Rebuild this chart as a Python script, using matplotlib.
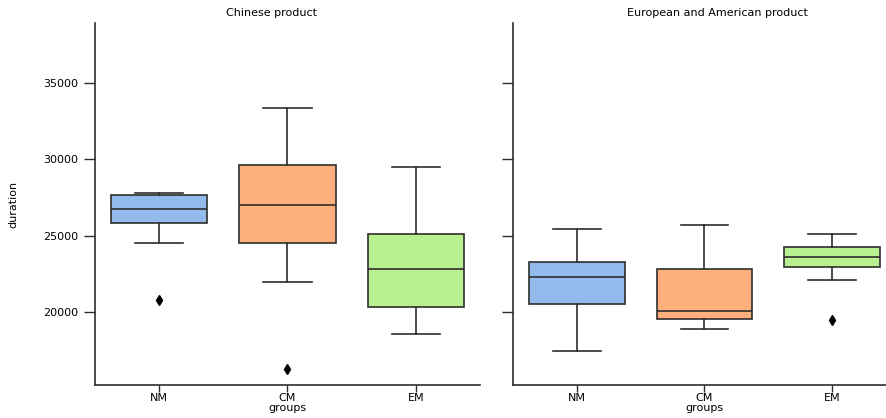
import matplotlib.pyplot as plt

groups = ['NM', 'CM', 'EM']
colors = ['#92BAED', '#FDB07B', '#B8F090']

# Chinese product
cn_whislo = [24510, 21965, 18600]
cn_q1 = [25820, 24535, 20330]
cn_med = [26740, 26995, 22835]
cn_q3 = [27670, 29650, 25145]
cn_whishi = [27820, 33380, 29520]
cn_fliers = [[20805], [16290], []]

# European and American product
ea_whislo = [17465, 18885, 22130]
ea_q1 = [20530, 19540, 22950]
ea_med = [22315, 20110, 23645]
ea_q3 = [23280, 22820, 24280]
ea_whishi = [25440, 25700, 25150]
ea_fliers = [[], [], [19475]]

line_c = '#2e2e2e'


def make_stats(lo, q1, med, q3, hi, fl):
    return [dict(whislo=a, q1=b, med=c, q3=d, whishi=e, fliers=f, label=g)
            for a, b, c, d, e, f, g in zip(lo, q1, med, q3, hi, fl, groups)]


def draw(ax, stats, title_x, title):
    bp = ax.bxp(stats, positions=range(len(groups)), widths=0.75,
                patch_artist=True, manage_ticks=False,
                boxprops=dict(edgecolor=line_c, linewidth=1.2),
                whiskerprops=dict(color=line_c, linewidth=1.2),
                capprops=dict(color=line_c, linewidth=1.2),
                medianprops=dict(color=line_c, linewidth=1.2),
                flierprops=dict(marker='d', markerfacecolor='black',
                                markeredgecolor='black', markersize=5.5))
    for patch, c in zip(bp['boxes'], colors):
        patch.set_facecolor(c)
    ax.set_xlim(-0.5, 2.5)
    ax.set_ylim(15240, 38930)
    ax.set_xticks(range(len(groups)))
    ax.set_xticklabels(groups)
    ax.set_yticks([20000, 25000, 30000, 35000])
    ax.set_xlabel('groups', fontsize=8, labelpad=0)
    for s in ['top', 'right']:
        ax.spines[s].set_visible(False)
    for s in ['left', 'bottom']:
        ax.spines[s].set_color(line_c)
        ax.spines[s].set_linewidth(1.2)
    ax.tick_params(direction='out', width=1, color=line_c, labelsize=8)
    ax.tick_params(axis='x', length=5, pad=1)
    ax.tick_params(axis='y', length=8, pad=4)
    fig.text(title_x, 0.968, title, ha='center', va='center', fontsize=8)


fig = plt.figure(figsize=(8.87, 4.18), dpi=100)
ax1 = fig.add_axes([95 / 887, 1 - 385 / 418, 385 / 887, 362 / 418])
ax2 = fig.add_axes([513 / 887, 1 - 385 / 418, 383 / 887, 362 / 418])

draw(ax1, make_stats(cn_whislo, cn_q1, cn_med, cn_q3, cn_whishi, cn_fliers),
     272 / 887, 'Chinese product')
draw(ax2, make_stats(ea_whislo, ea_q1, ea_med, ea_q3, ea_whishi, ea_fliers),
     717 / 887, 'European and American product')

ax1.set_ylabel('duration', fontsize=8, labelpad=18)
ax2.tick_params(axis='y', labelleft=False)

fig.savefig('out.png', dpi=100)
